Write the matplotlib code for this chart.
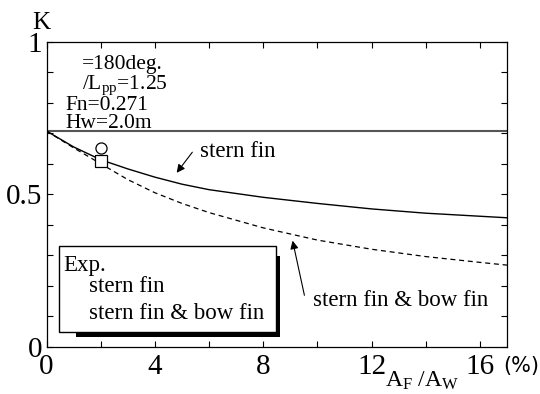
import matplotlib
matplotlib.use("Agg")
import matplotlib.pyplot as plt
from matplotlib.patches import Rectangle
import numpy as np

plt.rcParams['font.family'] = ['Liberation Serif', 'DejaVu Serif']
plt.rcParams['mathtext.fontset'] = 'custom'
plt.rcParams['mathtext.rm'] = 'Liberation Serif'
plt.rcParams['mathtext.it'] = 'Liberation Serif:italic'

# data
area_ratio = [0, 1, 2, 3, 4, 5, 6, 8, 10, 12, 14, 16, 17]
k_stern = [0.707, 0.655, 0.613, 0.583, 0.556, 0.533, 0.515, 0.490, 0.470, 0.452, 0.438, 0.428, 0.423]
k_stern_bow = [0.707, 0.652, 0.600, 0.548, 0.505, 0.470, 0.440, 0.390, 0.350, 0.320, 0.296, 0.277, 0.268]
ref_level = 0.707
exp_x = [2.0]
exp_stern = [0.651]
exp_stern_bow = [0.609]
x_ticks = [0, 4, 8, 12, 16]
y_ticks = [0, 0.5, 1]
y_tick_labels = ['0', '0.5', '1']

W, H = 540, 394
L, R, T, B = 46.5, 507, 41.5, 347
fig = plt.figure(figsize=(5.4, 3.94), dpi=100)
ax = fig.add_axes([L/W, 1-B/H, (R-L)/W, (B-T)/H])

def px2data(px, py):
    return (px-L)/(R-L)*17, (B-py)/(B-T)

ax.plot([0, 17], [ref_level, ref_level], color='#555555', lw=1.5)
ax.plot(area_ratio, k_stern, color='black', lw=1.0)
ax.plot(area_ratio, k_stern_bow, color='black', lw=0.9, ls=(0, (4, 3)))
ax.plot(exp_x, exp_stern, 'o', mfc='white', mec='black', ms=8, mew=0.9)
ax.plot(exp_x, exp_stern_bow, 's', mfc='white', mec='black', ms=8, mew=0.9)

ax.set_xlim(0, 17)
ax.set_ylim(0, 1)
ax.set_xticks(x_ticks)
ax.set_xticks(np.arange(0, 17, 2), minor=True)
ax.set_yticks(y_ticks)
ax.set_yticklabels(y_tick_labels)
ax.set_yticks(np.arange(0, 1.01, 0.1), minor=True)
ax.tick_params(which='both', direction='in', top=True, right=True, length=4, width=0.8)
ax.tick_params(axis='x', which='major', labelsize=21, pad=5)
ax.tick_params(axis='y', which='major', labelsize=21, pad=3)
for s in ax.spines.values():
    s.set_linewidth(0.9)

fs = 16.5
fs2 = 15.5
# K label
fig.text(41/W, 1-29/H, 'K', ha='center', va='baseline', fontsize=18)
# parameters
for txt, (px, py) in [('=180deg.', (82, 69)),
                      (r'/L$_{\mathrm{pp}}$=1.25', (82, 89)),
                      ('Fn=0.271', (65, 110)),
                      ('Hw=2.0m', (65, 128))]:
    x, y = px2data(px, py)
    ax.text(x, y, txt, fontsize=fs2, va='baseline')

# curve labels with arrows
x, y = px2data(200, 157)
ax.text(x, y, 'stern fin', fontsize=fs, va='baseline')
ax.annotate('', xy=px2data(175, 175), xytext=px2data(194, 150),
            arrowprops=dict(arrowstyle='-|>', color='black', lw=0.8, mutation_scale=12))
x, y = px2data(313, 306)
ax.text(x, y, 'stern fin & bow fin', fontsize=fs, va='baseline')
ax.annotate('', xy=px2data(292, 238), xytext=px2data(305, 298),
            arrowprops=dict(arrowstyle='-|>', color='black', lw=0.8, mutation_scale=12))

# legend box with shadow
sx0, sy0 = px2data(76, 337)
sx1, sy1 = px2data(280, 256)
ax.add_patch(Rectangle((sx0, sy0), sx1-sx0, sy1-sy0, facecolor='black', edgecolor='black', lw=0, zorder=5))
bx0, by0 = px2data(59, 332)
bx1, by1 = px2data(276, 246)
ax.add_patch(Rectangle((bx0, by0), bx1-bx0, by1-by0, facecolor='white', edgecolor='black', lw=1.0, zorder=6))
for txt, (px, py) in [('Exp.', (63, 271)),
                      ('stern fin', (89, 292)),
                      ('stern fin & bow fin', (89, 319))]:
    x, y = px2data(px, py)
    ax.text(x, y, txt, fontsize=fs, va='baseline', zorder=7)

# x-axis label
fig.text(385/W, 1-387/H, r'A$_{\mathrm{F}}$ /A$_{\mathrm{W}}$', fontsize=17, ha='left', va='baseline')
fig.text(503/W, 1-366/H, '(%)', fontsize=15, ha='left', va='center', family='DejaVu Sans')

fig.savefig('out.png', dpi=100)
